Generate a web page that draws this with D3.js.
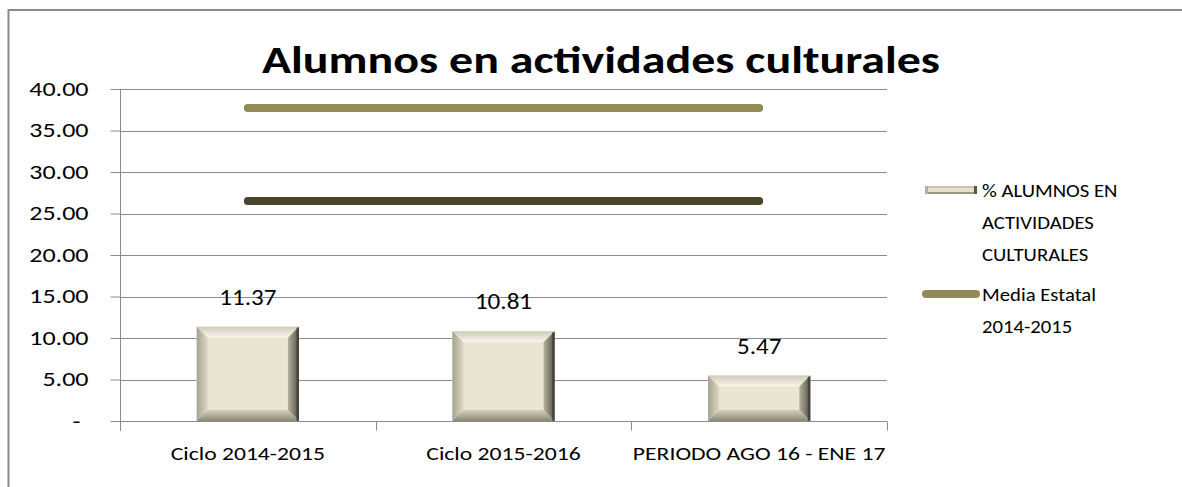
<!DOCTYPE html>
<html><head><meta charset="utf-8">
<script src="https://cdn.jsdelivr.net/npm/d3@7"></script>
<style>body{margin:0;background:#fff}svg{display:block}</style>
</head><body>
<script>
const categories = ["Ciclo 2014-2015", "Ciclo 2015-2016", "PERIODO AGO 16 - ENE 17"];
const barValues = [11.37, 10.81, 5.47];
const mediaEstatal = [37.7, 37.7, 37.7];
const otherLine = [26.5, 26.5, 26.5];
const yTicks = [0, 5, 10, 15, 20, 25, 30, 35, 40];
const legendBarLines = ["% ALUMNOS EN", "ACTIVIDADES", "CULTURALES"];
const legendLineLines = ["Media Estatal", "2014-2015"];
const title = "Alumnos en actividades culturales";

const W = 1182, H = 487;
const svg = d3.select("body").append("svg").attr("width", W).attr("height", H);
const font = "Carlito, Calibri, Lato, 'Liberation Sans', sans-serif";

function stretch(sel, f) {
  sel.each(function () {
    const w = this.getComputedTextLength();
    if (w > 0) d3.select(this).attr("textLength", w * f).attr("lengthAdjust", "spacingAndGlyphs");
  });
}

// outer frame
svg.append("rect").attr("x", 8.5).attr("y", 10).attr("width", W + 20).attr("height", H + 20)
  .attr("fill", "none").attr("stroke", "#8a8a8a").attr("stroke-width", 2);

const x = d3.scaleBand().domain(categories).range([120, 887]).padding(0);
const y = d3.scaleLinear().domain([0, 40]).range([421, 89]);

// gridlines
svg.append("g").selectAll("line").data(yTicks).join("line")
  .attr("x1", 120).attr("x2", 887)
  .attr("y1", d => Math.round(y(d)) + 0.5).attr("y2", d => Math.round(y(d)) + 0.5)
  .attr("stroke", "#8c8c8c").attr("stroke-width", 1);

// y axis
const yAxis = d3.axisLeft(y).tickValues(yTicks).tickSize(10).tickPadding(22)
  .tickFormat(d => d === 0 ? "-" : d3.format(".2f")(d));
const gy = svg.append("g").attr("transform", "translate(120.5,0)").call(yAxis);
gy.select(".domain").attr("stroke", "#8c8c8c").attr("d", `M-0,${y(40)}V${y(0)+10}`);
gy.selectAll(".tick line").attr("stroke", "#8c8c8c");
gy.selectAll(".tick text").attr("font-family", font).attr("font-size", 20).attr("fill", "#000");
gy.selectAll(".tick").filter(d => d === 0).select("text").attr("dx", -8);
stretch(gy.selectAll(".tick text"), 1.3);

// x axis
const gx = svg.append("g").attr("transform", `translate(0,${Math.round(y(0)) + 0.5})`);
const bounds = [0, 1, 2, 3].map(i => 120 + i * x.bandwidth());
gx.append("line").attr("x1", 120).attr("x2", 887).attr("stroke", "#8c8c8c");
gx.selectAll("line.t").data(bounds).join("line").attr("class", "t")
  .attr("x1", d => Math.round(d) + 0.5).attr("x2", d => Math.round(d) + 0.5)
  .attr("y1", 0).attr("y2", 9).attr("stroke", "#8c8c8c");
const xl = gx.selectAll("text").data(categories).join("text")
  .attr("x", d => x(d) + x.bandwidth() / 2).attr("y", 38)
  .attr("text-anchor", "middle").attr("font-family", font).attr("font-size", 17.5)
  .attr("fill", "#000").text(d => d);
stretch(xl, 1.35);

// defs gradients
const defs = svg.append("defs");
const gR = defs.append("linearGradient").attr("id", "gR");
gR.append("stop").attr("offset", "0").attr("stop-color", "#b4b19e");
gR.append("stop").attr("offset", "1").attr("stop-color", "#55534a");
const gL = defs.append("linearGradient").attr("id", "gL");
gL.append("stop").attr("offset", "0").attr("stop-color", "#a6a390");
gL.append("stop").attr("offset", "1").attr("stop-color", "#dcd8c4");
const gT = defs.append("linearGradient").attr("id", "gT").attr("x1", 0).attr("x2", 0).attr("y1", 0).attr("y2", 1);
gT.append("stop").attr("offset", "0").attr("stop-color", "#d0ccb8");
gT.append("stop").attr("offset", "1").attr("stop-color", "#f8f6ee");
const gB = defs.append("linearGradient").attr("id", "gB").attr("x1", 0).attr("x2", 0).attr("y1", 0).attr("y2", 1);
gB.append("stop").attr("offset", "0").attr("stop-color", "#d4d0bc");
gB.append("stop").attr("offset", "1").attr("stop-color", "#8a8775");

// bars with bevel
const bw = x.bandwidth() * 0.4;
const bars = svg.append("g").selectAll("g").data(barValues).join("g");
bars.each(function (v, i) {
  const g = d3.select(this);
  const x0 = x(categories[i]) + (x.bandwidth() - bw) / 2, x1 = x0 + bw;
  const y0 = y(v), y1 = y(0);
  const b = Math.min(11, (y1 - y0) / 2 - 1);
  g.append("rect").attr("x", x0).attr("y", y0).attr("width", bw).attr("height", y1 - y0).attr("fill", "#e9e5d2");
  const P = pts => pts.map(p => p.join(",")).join(" ");
  g.append("polygon").attr("points", P([[x0, y0], [x1, y0], [x1 - b, y0 + b], [x0 + b, y0 + b]])).attr("fill", "url(#gT)");
  g.append("polygon").attr("points", P([[x0, y0], [x0 + b, y0 + b], [x0 + b, y1 - b], [x0, y1]])).attr("fill", "url(#gL)");
  g.append("polygon").attr("points", P([[x1, y0], [x1, y1], [x1 - b, y1 - b], [x1 - b, y0 + b]])).attr("fill", "url(#gR)");
  g.append("polygon").attr("points", P([[x0, y1], [x0 + b, y1 - b], [x1 - b, y1 - b], [x1, y1]])).attr("fill", "url(#gB)");
  g.append("rect").attr("x", x1 - 2.5).attr("y", y0 + 1).attr("width", 2.5).attr("height", y1 - y0 - 1).attr("fill", "#3f3d33").attr("opacity", 0.75);
});

// data labels
const dl = svg.append("g").selectAll("text").data(barValues).join("text")
  .attr("x", (d, i) => x(categories[i]) + x.bandwidth() / 2)
  .attr("y", d => y(d) - 22)
  .attr("text-anchor", "middle").attr("font-family", font).attr("font-size", 22)
  .attr("fill", "#000").text(d => d3.format(".2f")(d));
stretch(dl, 1.14);

// lines
const line = d3.line().x((d, i) => x(categories[i]) + x.bandwidth() / 2).y(d => y(d));
svg.append("path").datum(otherLine).attr("d", line).attr("fill", "none")
  .attr("stroke", "#4a442a").attr("stroke-width", 8).attr("stroke-linecap", "round");
svg.append("path").datum(mediaEstatal).attr("d", line).attr("fill", "none")
  .attr("stroke", "#948a54").attr("stroke-width", 8).attr("stroke-linecap", "round");

// title
svg.append("text").attr("x", 601).attr("y", 73).attr("text-anchor", "middle")
  .attr("font-family", font).attr("font-weight", "bold").attr("font-size", 38)
  .attr("textLength", 678).attr("lengthAdjust", "spacingAndGlyphs")
  .attr("fill", "#000").text(title);

// legend
const lg = svg.append("g");
const sx = 925, sy = 186, sw = 52, sh = 8;
lg.append("rect").attr("x", sx).attr("y", sy).attr("width", sw).attr("height", sh).attr("fill", "#e4e0cc");
lg.append("rect").attr("x", sx).attr("y", sy).attr("width", sw).attr("height", 2).attr("fill", "#c8c4b0");
lg.append("rect").attr("x", sx).attr("y", sy + sh - 2).attr("width", sw).attr("height", 2).attr("fill", "#9a9682");
lg.append("rect").attr("x", sx).attr("y", sy).attr("width", 3).attr("height", sh).attr("fill", "#b4b09c");
lg.append("rect").attr("x", sx + sw - 3).attr("y", sy).attr("width", 3).attr("height", sh).attr("fill", "#5a5848");
const lt1 = lg.selectAll("text.a").data(legendBarLines).join("text").attr("class", "a")
  .attr("x", 982).attr("y", (d, i) => 197 + i * 32)
  .attr("font-family", font).attr("font-size", 19).attr("fill", "#000").text(d => d);
stretch(lt1, 1.09);
lg.append("line").attr("x1", 926).attr("x2", 976).attr("y1", 294).attr("y2", 294)
  .attr("stroke", "#948a54").attr("stroke-width", 8).attr("stroke-linecap", "round");
const lt2 = lg.selectAll("text.b").data(legendLineLines).join("text").attr("class", "b")
  .attr("x", 982).attr("y", (d, i) => 301 + i * 32)
  .attr("font-family", font).attr("font-size", 19).attr("fill", "#000").text(d => d);
stretch(lt2, 1.09);
</script>
</body></html>
